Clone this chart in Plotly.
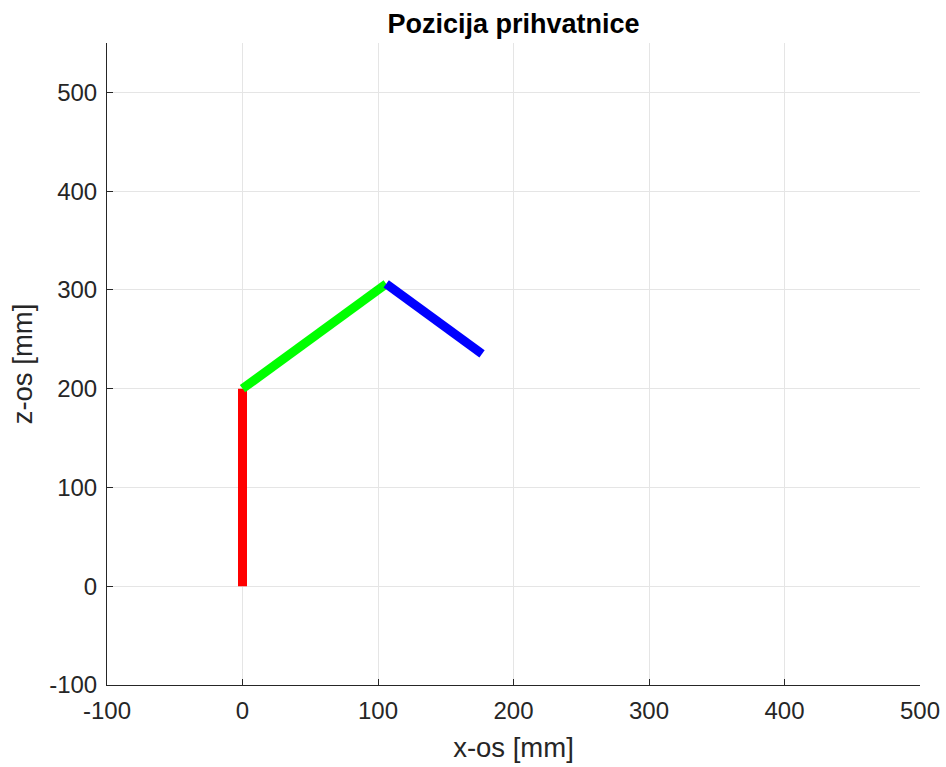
import numpy as np
import plotly.graph_objects as go

# Joint positions (mm)
seg_names = ["link1", "link2", "link3"]
seg_colors = ["#ff0000", "#00ff00", "#0000ff"]
x_pts = [0, 0, 106.07, 176.78]
z_pts = [0, 200, 306.07, 235.36]

x_ticks = [-100, 0, 100, 200, 300, 400, 500]
x_ticktext = ["-100", "0", "100", "200", "300", "400", "500"]
z_ticks = [-100, 0, 100, 200, 300, 400, 500]
z_ticktext = ["-100", "0", "100", "200", "300", "400", "500"]

fig = go.Figure()
for i, (n, c) in enumerate(zip(seg_names, seg_colors)):
    fig.add_trace(go.Scatter(
        x=[x_pts[i], x_pts[i + 1]], y=[z_pts[i], z_pts[i + 1]],
        mode="lines", name=n, line=dict(color=c, width=9), showlegend=False))

font = "Liberation Sans, Arial, sans-serif"
fig.update_layout(
    width=946, height=767,
    paper_bgcolor="white", plot_bgcolor="white",
    margin=dict(l=107, r=26, t=43, b=82, autoexpand=False),
    font=dict(family=font, color="#262626", size=24),
    title=dict(text="<b>Pozicija prihvatnice</b>", x=(107 + 920) / 2 / 946, xanchor="center",
               y=1 - 24 / 767, yanchor="middle", font=dict(size=27, color="#000000")),
    xaxis=dict(range=[-100, 500], tickvals=x_ticks, ticktext=x_ticktext, showgrid=True,
               gridcolor="#e5e5e5", gridwidth=1, zeroline=False, showline=True,
               linecolor="#262626", linewidth=1, automargin=False,
               ticks="inside", ticklen=6, tickcolor="#262626", ticklabelstandoff=4,
               title=dict(text="x-os [mm]", font=dict(size=27.5), standoff=14),
               tickfont=dict(size=24)),
    yaxis=dict(range=[-100, 550], tickvals=z_ticks, ticktext=z_ticktext, showgrid=True,
               gridcolor="#e5e5e5", gridwidth=1, zeroline=False, showline=True,
               linecolor="#262626", linewidth=1, automargin=False,
               ticks="inside", ticklen=6, tickcolor="#262626", ticklabelstandoff=4,
               title=dict(text="z-os [mm]", font=dict(size=27.5), standoff=8),
               tickfont=dict(size=24)),
)
fig.write_html("out.html", config={"displayModeBar": False},
               post_script="document.body.style.margin='0px';")
